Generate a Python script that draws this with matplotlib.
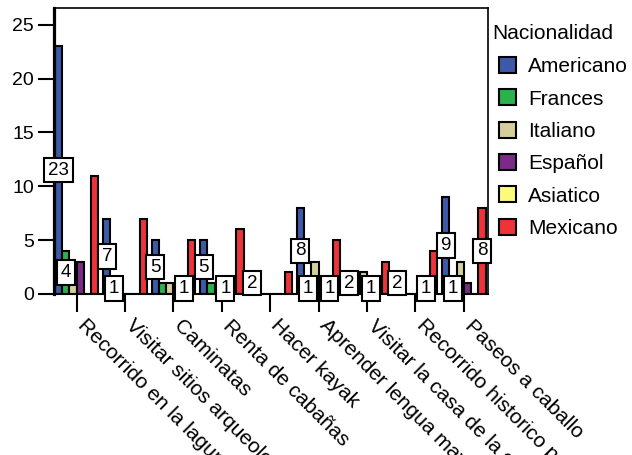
import numpy as np
import matplotlib
matplotlib.use('Agg')
import matplotlib.pyplot as plt

plt.rcParams['font.family'] = ['Liberation Sans', 'DejaVu Sans']

# Datos del grafico (conteos por actividad y nacionalidad)
actividades = ['Recorrido en la laguna', 'Visitar sitios arqueologicos', 'Caminatas',
               'Renta de cabañas', 'Hacer kayak', 'Aprender lengua maya',
               'Visitar la casa de la cultura', 'Recorrido historico por el pueblo',
               'Paseos a caballo']
nacionalidades = ['Americano', 'Frances', 'Italiano', 'Español', 'Asiatico', 'Mexicano']

americano = [23, 7, 5, 5, 2, 8, 2, 2, 9]
frances   = [4, 1, 1, 1, 0, 1, 0, 0, 1]
italiano  = [1, 0, 1, 0, 0, 3, 2, 0, 3]
espanol   = [3, 0, 0, 1, 0, 0, 1, 0, 1]
asiatico  = [0, 0, 1, 0, 0, 1, 0, 1, 0]
mexicano  = [11, 7, 5, 6, 2, 5, 3, 4, 8]

# etiquetas visibles: (serie, actividad)
etiquetas = [(0, k) for k in range(9)] + [(1, 0), (1, 1), (1, 5), (1, 8),
             (3, 3), (3, 6), (4, 2), (4, 5), (4, 7), (5, 8)]

colores = ['#3C5AA8', '#2DB14A', '#D6CF9C', '#7A2B86', '#FCF97C', '#EE3339']
series = [americano, frances, italiano, espanol, asiatico, mexicano]

fig = plt.figure(figsize=(6.32, 4.55), dpi=100)
ax = fig.add_axes([54/632, 1-294/455, (488-54)/632, (294-7.5)/455])

x = np.arange(len(actividades))
ancho = 0.15
for j, serie in enumerate(series):
    pos = x + (j - 2.5) * ancho
    ax.bar(pos, serie, ancho, color=colores[j], edgecolor='black', linewidth=1.5,
           label=nacionalidades[j], zorder=2)

for j, k in etiquetas:
    v = series[j][k]
    ax.text(k + (j - 2.5) * ancho, v / 2, str(v), ha='center', va='center', fontsize=13.5,
            bbox=dict(boxstyle='square,pad=0.2', fc='white', ec='black', lw=1.5), zorder=3)

ax.set_xlim(-0.467, 8.5)
ax.set_ylim(0, 26.6)
ax.set_yticks([0, 5, 10, 15, 20, 25])
ax.tick_params(axis='y', length=11.5, width=1.5, labelsize=14, pad=3)

ax.set_xticks(x)
ax.set_xticklabels(actividades, rotation=-45, ha='left', va='baseline',
                   rotation_mode='anchor', fontsize=15)
ax.tick_params(axis='x', length=13, width=1.5, pad=10.5)

ax.spines['left'].set_linewidth(2.3)
ax.spines['bottom'].set_linewidth(1.5)
ax.spines['top'].set_linewidth(1.2)
ax.spines['right'].set_linewidth(1.2)

fig.text(492/632, 1-33.5/455, 'Nacionalidad', va='center', ha='left', fontsize=15)
ax.legend(loc='upper left', bbox_to_anchor=(499/632, 1-57/455), bbox_transform=fig.transFigure,
          frameon=False, fontsize=15, handlelength=0.8, handleheight=0.8,
          handletextpad=0.6, labelspacing=0.63, borderaxespad=0, borderpad=0)

fig.savefig('out.png', dpi=100)
